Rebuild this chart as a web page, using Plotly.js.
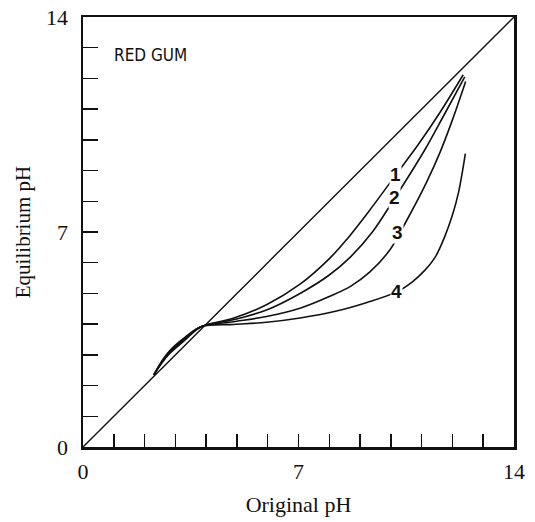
<!DOCTYPE html>
<html>
<head>
<meta charset="utf-8">
<script src="https://cdn.plot.ly/plotly-3.0.1.min.js"></script>
<style>
  html, body { margin: 0; padding: 0; background: #fff; }
  #chart { width: 535px; height: 522px; }
</style>
</head>
<body>
<div id="chart"></div>
<script>
// Equilibrium pH against original pH for red gum, four treatments
var diagX = [0, 14];
var diagY = [0, 14];

var curve1X = [2.3, 2.55, 2.8, 3.3, 3.85, 4.88, 5.96, 7.05, 8.02, 8.6, 9.32, 10.16, 10.89, 11.6, 12.35];
var curve1Y = [2.35, 2.72, 3.03, 3.47, 3.92, 4.19, 4.63, 5.3, 6.15, 6.8, 7.72, 8.86, 9.85, 10.9, 12.12];

var curve2X = [2.3, 2.55, 2.8, 3.3, 3.85, 4.88, 5.96, 7.05, 8.0, 8.7, 9.4, 10.13, 11.1, 11.75, 12.4];
var curve2Y = [2.35, 2.74, 3.06, 3.5, 3.92, 4.14, 4.46, 5.0, 5.6, 6.2, 7.0, 8.11, 9.67, 10.85, 12.05];

var curve3X = [2.3, 2.55, 2.8, 3.3, 3.85, 4.9, 5.96, 7.05, 8.0, 8.7, 9.32, 9.97, 10.5, 11.15, 11.6, 12.0, 12.43];
var curve3Y = [2.35, 2.76, 3.09, 3.53, 3.92, 4.08, 4.25, 4.52, 4.9, 5.24, 5.7, 6.42, 7.35, 8.6, 9.6, 10.65, 11.9];

var curve4X = [2.3, 2.55, 2.8, 3.3, 3.85, 4.9, 5.96, 7.05, 8.2, 9.2, 10.19, 10.7, 11.1, 11.45, 11.75, 12.0, 12.2, 12.33, 12.42];
var curve4Y = [2.35, 2.78, 3.12, 3.56, 3.92, 3.99, 4.06, 4.2, 4.42, 4.7, 5.05, 5.38, 5.75, 6.2, 6.85, 7.55, 8.3, 9.0, 9.55];

var curveNames = ['1', '2', '3', '4'];
var tickVals = [0, 1, 2, 3, 4, 5, 6, 7, 8, 9, 10, 11, 12, 13, 14];
var tickText = ['0', '', '', '', '', '', '', '7', '', '', '', '', '', '', '14'];

var serif = '"Liberation Serif", "DejaVu Serif", serif';

function curve(x, y, name) {
  return {
    x: x, y: y, name: name, type: 'scatter', mode: 'lines',
    line: { color: '#111', width: 1.6, shape: 'spline', smoothing: 1 },
    hoverinfo: 'skip'
  };
}

var traces = [
  { x: diagX, y: diagY, type: 'scatter', mode: 'lines',
    line: { color: '#111', width: 1.4 }, hoverinfo: 'skip' },
  curve(curve1X, curve1Y, curveNames[0]),
  curve(curve2X, curve2Y, curveNames[1]),
  curve(curve3X, curve3Y, curveNames[2]),
  curve(curve4X, curve4Y, curveNames[3])
];

// label positions sit on each curve
var labelPos = [[10.16, 8.86], [10.13, 8.11], [10.23, 6.97], [10.19, 5.05]];
var annotations = labelPos.map(function (p, i) {
  return {
    x: p[0], y: p[1], xref: 'x', yref: 'y', text: '<b>' + curveNames[i] + '</b>',
    showarrow: false, bgcolor: '#fff', borderpad: 0,
    font: { family: '"Liberation Sans", Arial, sans-serif', size: 19, color: '#111' }
  };
});
annotations.push({
  x: 2.18, y: 12.77, xref: 'x', yref: 'y', text: 'RED GUM', showarrow: false,
  font: { family: '"DejaVu Sans Condensed", "DejaVu Sans", sans-serif', size: 17, color: '#111' }
});

var axisCommon = {
  range: [0, 14], showgrid: false, zeroline: false,
  showline: true, mirror: true, linewidth: 2.5, linecolor: '#111',
  ticks: 'inside', tickwidth: 1.5, tickcolor: '#111',
  tickmode: 'array', tickvals: tickVals, ticktext: tickText,
  tickfont: { family: serif, size: 22, color: '#111' },
  fixedrange: true
};

var layout = {
  width: 535, height: 522,
  margin: { l: 83, r: 21, t: 17, b: 75 },
  paper_bgcolor: '#fff', plot_bgcolor: '#fff',
  showlegend: false,
  xaxis: Object.assign({}, axisCommon, {
    ticklen: 13, ticklabelstandoff: 3,
    title: { text: 'Original pH', font: { family: serif, size: 22, color: '#111' }, standoff: 14 }
  }),
  yaxis: Object.assign({}, axisCommon, {
    ticklen: 15, ticklabelstandoff: 8,
    title: { text: 'Equilibrium pH', font: { family: serif, size: 21, color: '#111' }, standoff: 10 }
  }),
  annotations: annotations
};

Plotly.newPlot('chart', traces, layout, { staticPlot: true, displayModeBar: false });
</script>
</body>
</html>
